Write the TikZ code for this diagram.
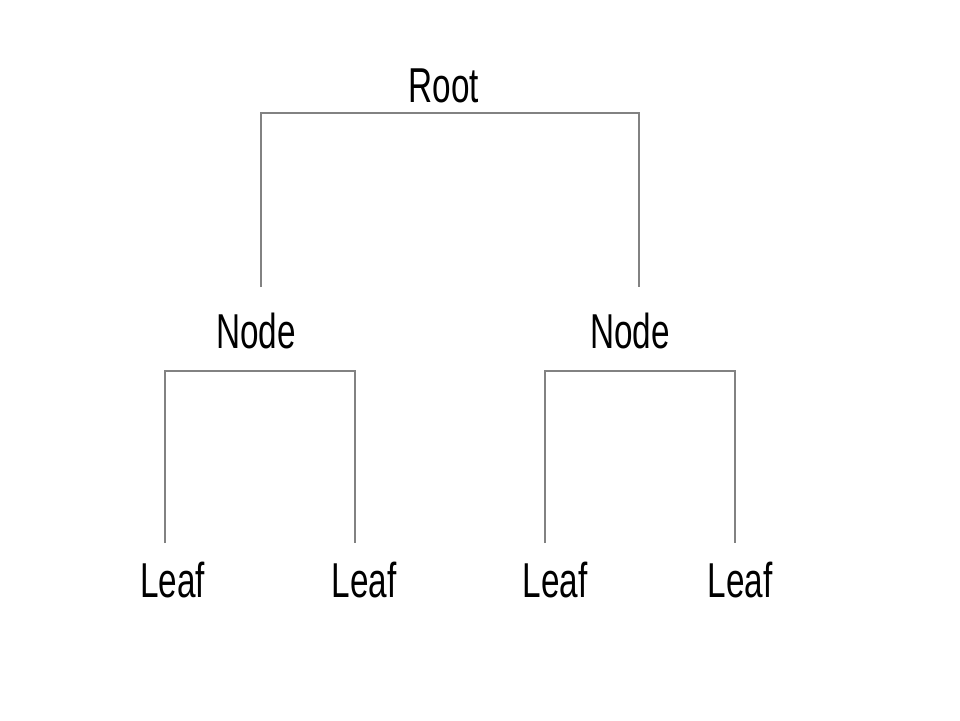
\documentclass[tikz,border=0pt]{standalone}
\usepackage{fontspec}
\setmainfont{Liberation Sans}
\begin{document}
\begin{tikzpicture}[x=1pt,y=-1pt,
  lbl/.style={anchor=base,inner sep=0pt,xscale=0.68,font=\fontsize{49}{52}\selectfont},
  conn/.style={draw={rgb,255:red,130;green,130;blue,130},line width=2.4pt}]
\useasboundingbox[fill=white] (0,0) rectangle (960,720);
% labels
\node[lbl] (root) at (444,102) {Root};
\node[lbl] (nl) at (256,348) {Node};
\node[lbl] (nr) at (630,348) {Node};
\node[lbl] (l1) at (172.5,597) {Leaf};
\node[lbl] (l2) at (364,597) {Leaf};
\node[lbl] (l3) at (555,597) {Leaf};
\node[lbl] (l4) at (740,597) {Leaf};
% connector endpoints
\coordinate (rj) at (444,113);
\coordinate (nlt) at (261,287);
\coordinate (nrt) at (639,287);
\coordinate (nlj) at (260,371);
\coordinate (nrj) at (640,371);
\coordinate (l1t) at (165,543);
\coordinate (l2t) at (355,543);
\coordinate (l3t) at (545,543);
\coordinate (l4t) at (735,543);
% connectors
\draw[conn] (nlt) |- (rj) -| (nrt);
\draw[conn] (l1t) |- (nlj) -| (l2t);
\draw[conn] (l3t) |- (nrj) -| (l4t);
\end{tikzpicture}
\end{document}
